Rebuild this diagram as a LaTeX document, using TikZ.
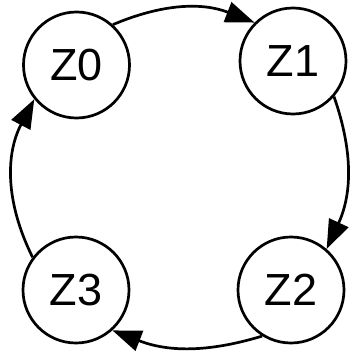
\documentclass[tikz,border=0pt]{standalone}
\usepackage{fontspec}
\setmainfont{Liberation Sans}
\usetikzlibrary{arrows.meta}
\begin{document}
\begin{tikzpicture}[x=1pt,y=-1pt,
  state/.style={circle,draw=black,line width=2.7pt,minimum size=106pt,inner sep=0pt,font=\fontsize{45}{45}\selectfont},
  trans/.style={line width=2.7pt,-{Triangle[length=29pt,width=21pt]}}]
\useasboundingbox (0,0) rectangle (349,353);
\node[state] (Z0) at (76.5,65) {Z0};
\node[state] (Z1) at (293,61) {Z1};
\node[state] (Z2) at (291,290) {Z2};
\node[state] (Z3) at (76,290) {Z3};
\draw[trans] (Z0.48) to[bend left=22] (Z1.135);
\draw[trans] (Z1.-41) to[bend left=22] (Z2.49);
\draw[trans] (Z2.-122) to[bend left=19] (Z3.-48);
\draw[trans] (Z3.143) to[bend left=27] (Z0.-141);
\end{tikzpicture}
\end{document}
